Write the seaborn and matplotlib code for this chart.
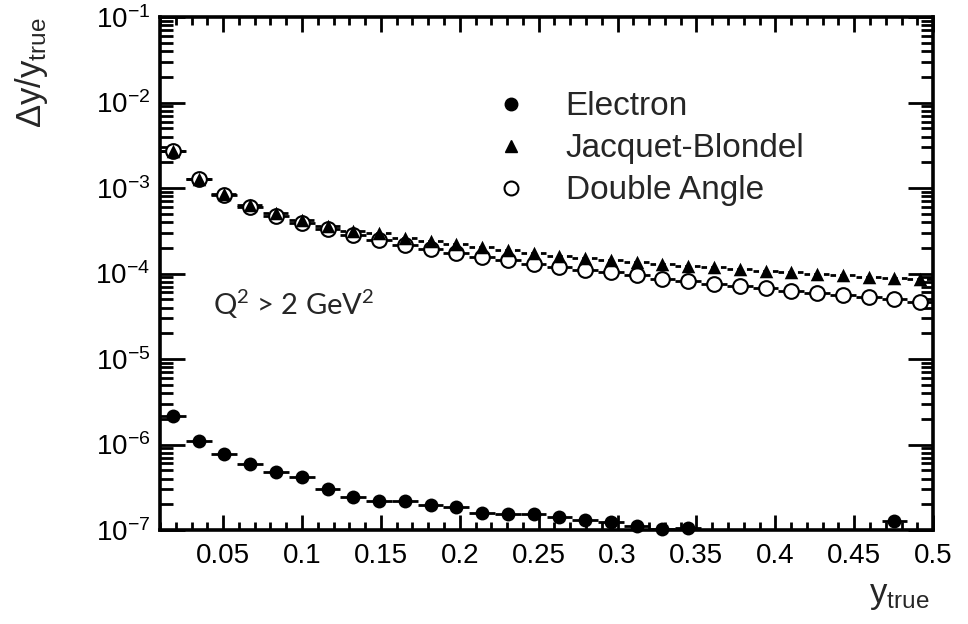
import numpy as np
import matplotlib
matplotlib.use("Agg")
import matplotlib.pyplot as plt
import seaborn as sns
from matplotlib.ticker import MultipleLocator, LogLocator, NullFormatter, FixedLocator, FixedFormatter
from matplotlib.lines import Line2D

# bin centres of y_true (30 bins between 0.01 and 0.5)
y_true = [0.0182, 0.0345, 0.0508, 0.0672, 0.0835, 0.0998, 0.1162, 0.1325, 0.1488, 0.1652,
          0.1815, 0.1978, 0.2142, 0.2305, 0.2468, 0.2632, 0.2795, 0.2958, 0.3122, 0.3285,
          0.3448, 0.3612, 0.3775, 0.3938, 0.4102, 0.4265, 0.4428, 0.4592, 0.4755, 0.4918]
half_bin = 0.00817

# resolution dy/y_true per method (nan = below the plotted range)
electron = [2.18e-6, 1.11e-6, 7.8e-7, 5.94e-7, 4.74e-7, 4.15e-7, 3.03e-7, 2.42e-7, 2.17e-7, 2.21e-7,
            1.94e-7, 1.85e-7, 1.57e-7, 1.56e-7, 1.55e-7, 1.41e-7, 1.31e-7, 1.25e-7, 1.11e-7, 1.02e-7,
            1.07e-7, np.nan, np.nan, np.nan, np.nan, np.nan, np.nan, np.nan, 1.27e-7, np.nan]
jacquet_blondel = [2.7e-3, 1.27e-3, 8.5e-4, 6.33e-4, 5.1e-4, 4.23e-4, 3.6e-4, 3.14e-4, 2.94e-4, 2.57e-4,
                   2.4e-4, 2.21e-4, 2.04e-4, 1.88e-4, 1.74e-4, 1.6e-4, 1.52e-4, 1.44e-4, 1.38e-4, 1.31e-4,
                   1.22e-4, 1.18e-4, 1.13e-4, 1.08e-4, 1.04e-4, 9.87e-5, 9.6e-5, 9.22e-5, 8.98e-5, 8.55e-5]
double_angle = [2.7e-3, 1.26e-3, 8.28e-4, 6.0e-4, 4.77e-4, 3.93e-4, 3.29e-4, 2.82e-4, 2.46e-4, 2.15e-4,
                1.92e-4, 1.75e-4, 1.56e-4, 1.45e-4, 1.31e-4, 1.18e-4, 1.11e-4, 1.03e-4, 9.53e-5, 8.67e-5,
                8.17e-5, 7.63e-5, 7.14e-5, 6.77e-5, 6.32e-5, 5.94e-5, 5.68e-5, 5.31e-5, 5.03e-5, 4.64e-5]

x_ticks = [0.05, 0.1, 0.15, 0.2, 0.25, 0.3, 0.35, 0.4, 0.45, 0.5]
x_tick_labels = ["0.05", "0.1", "0.15", "0.2", "0.25", "0.3", "0.35", "0.4", "0.45", "0.5"]

sns.set_theme(style="ticks")
plt.rcParams["font.family"] = ["Liberation Sans", "DejaVu Sans"]
plt.rcParams["mathtext.default"] = "regular"

fig = plt.figure(figsize=(9.68, 6.24), dpi=100)
ax = fig.add_axes([0.1653, 0.1506, 0.7986, 0.8221])

# horizontal bin-width bars
ax.errorbar(y_true, electron, xerr=half_bin, fmt="none", ecolor="black", elinewidth=2, zorder=2)
ax.errorbar(y_true, double_angle, xerr=half_bin, fmt="none", ecolor="black", elinewidth=2, zorder=2)
eb_jb = ax.errorbar(y_true, jacquet_blondel, xerr=half_bin, fmt="none", ecolor="black",
                    elinewidth=2, zorder=2)
eb_jb[2][0].set_linestyle((0, (2, 1.5)))

# markers
sns.scatterplot(x=y_true, y=electron, ax=ax, marker="o", s=100, color="black",
                linewidth=0, zorder=4, clip_on=False)
sns.scatterplot(x=y_true, y=double_angle, ax=ax, marker="o", s=112, facecolor="white",
                edgecolor="black", linewidth=1.5, zorder=3)
sns.scatterplot(x=y_true, y=jacquet_blondel, ax=ax, marker="^", s=95, color="black",
                linewidth=0, zorder=4)

ax.set_yscale("log")
ax.set_xlim(0.01, 0.5)
ax.set_ylim(1e-7, 1e-1)

ax.xaxis.set_major_locator(FixedLocator(x_ticks))
ax.xaxis.set_major_formatter(FixedFormatter(x_tick_labels))
ax.xaxis.set_minor_locator(MultipleLocator(0.01))
ax.yaxis.set_major_locator(LogLocator(base=10, numticks=10))
ax.yaxis.set_minor_locator(LogLocator(base=10, subs=np.arange(2, 10), numticks=100))
ax.yaxis.set_minor_formatter(NullFormatter())

for side in ["left", "right", "top", "bottom"]:
    ax.spines[side].set_visible(True)
    ax.spines[side].set_linewidth(2.6)
    ax.spines[side].set_color("black")

ax.tick_params(which="both", direction="in", top=True, right=True, width=2, colors="black")
ax.tick_params(axis="x", which="major", length=11, pad=9, labelsize=20)
ax.tick_params(axis="x", which="minor", length=6)
ax.tick_params(axis="y", which="major", length=18, pad=7, labelsize=20)
ax.tick_params(axis="y", which="minor", length=9)

ax.set_xlabel("y$_{true}$", fontsize=25, ha="right")
ax.xaxis.set_label_coords(0.995, -0.095)
ax.set_ylabel("Δy/y$_{true}$", fontsize=25, ha="right")
ax.yaxis.set_label_coords(-0.142, 1.0)

ax.text(0.068, 0.42, "Q$^{2}$ > 2 GeV$^{2}$", transform=ax.transAxes, fontsize=21,
        family="Lato", va="baseline", ha="left")

handles = [
    Line2D([], [], ls="none", marker="o", ms=9, color="black"),
    Line2D([], [], ls="none", marker="^", ms=8.5, color="black"),
    Line2D([], [], ls="none", marker="o", ms=10, mfc="white", mec="black", mew=1.5),
]
labels = ["Electron", "Jacquet-Blondel", "Double Angle"]
ax.legend(handles, labels, loc="upper left", bbox_to_anchor=(0.432, 0.855), frameon=False,
          fontsize=24, handlelength=1.0, handletextpad=1.15, labelspacing=0.33,
          borderpad=0, borderaxespad=0)

fig.savefig("out.png", dpi=100)
